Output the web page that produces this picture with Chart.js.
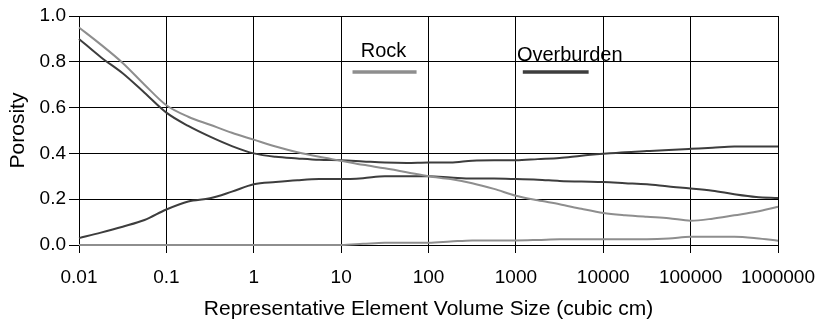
<!DOCTYPE html>
<html>
<head>
<meta charset="utf-8">
<script src="https://cdn.jsdelivr.net/npm/chart.js@4.4.1/dist/chart.umd.min.js"></script>
<style>
  html, body { margin: 0; padding: 0; background: #fff; }
  #wrap { width: 828px; height: 325px; }
</style>
</head>
<body>
<div id="wrap"><canvas id="rev"></canvas></div>
<script>
// volume sizes (cubic cm), sampled at quarter decades
const sizes = [0.01, 0.0178, 0.0316, 0.0562, 0.1, 0.178, 0.316, 0.562,
  1, 1.78, 3.16, 5.62, 10, 17.8, 31.6, 56.2, 100, 178, 316, 562,
  1000, 1780, 3160, 5620, 10000, 17800, 31600, 56200,
  100000, 178000, 316000, 562000, 1000000];

const rockUpper = [0.95, 0.875, 0.795, 0.70, 0.61, 0.56, 0.525, 0.49,
  0.46, 0.43, 0.405, 0.385, 0.368, 0.35, 0.335, 0.318, 0.30, 0.288, 0.27, 0.245,
  0.215, 0.195, 0.178, 0.158, 0.14, 0.13, 0.123, 0.117,
  0.106, 0.115, 0.13, 0.145, 0.167];

const rockLower = [0, 0, 0, 0, 0, 0, 0, 0,
  0, 0, 0, 0, 0, 0.005, 0.01, 0.01, 0.01, 0.015, 0.02, 0.02,
  0.02, 0.022, 0.025, 0.025, 0.025, 0.025, 0.025, 0.028,
  0.036, 0.036, 0.036, 0.03, 0.019];

const overUpper = [0.90, 0.82, 0.75, 0.665, 0.578, 0.52, 0.473, 0.432,
  0.40, 0.385, 0.378, 0.372, 0.37, 0.365, 0.36, 0.358, 0.36, 0.36, 0.368, 0.37,
  0.37, 0.375, 0.38, 0.39, 0.398, 0.405, 0.41, 0.415,
  0.42, 0.425, 0.43, 0.43, 0.43];

const overLower = [0.03, 0.054, 0.08, 0.109, 0.155, 0.19, 0.204, 0.233,
  0.265, 0.275, 0.283, 0.288, 0.288, 0.292, 0.30, 0.30, 0.30, 0.295, 0.29, 0.29,
  0.288, 0.285, 0.28, 0.277, 0.275, 0.27, 0.265, 0.255,
  0.247, 0.237, 0.222, 0.21, 0.205];

const decadeTicks = [0.01, 0.1, 1, 10, 100, 1000, 10000, 100000, 1000000];

const rockColor = '#8e8e8e';
const overColor = '#3d3d3d';
const fontFamily = '"Liberation Sans", Arial, sans-serif';

const toPoints = vals => vals.map((v, i) => ({ x: sizes[i], y: v }));

// legend drawn inside the plot area, labels above line samples
const insideLegend = {
  id: 'insideLegend',
  afterDatasetsDraw(chart) {
    const { ctx, scales } = chart;
    const xs = scales.x, ys = scales.y;
    const items = [
      { text: 'Rock', color: rockColor, from: 13.5, to: 73, textY: 0.823, shift: -1 },
      { text: 'Overburden', color: overColor, from: 1200, to: 6800, textY: 0.805, shift: 14 }
    ];
    ctx.save();
    ctx.font = '20px ' + fontFamily;
    ctx.fillStyle = '#000';
    ctx.textAlign = 'center';
    ctx.textBaseline = 'alphabetic';
    items.forEach(it => {
      const x0 = xs.getPixelForValue(it.from);
      const x1 = xs.getPixelForValue(it.to);
      const ly = ys.getPixelForValue(0.755);
      ctx.strokeStyle = it.color;
      ctx.lineWidth = 3.5;
      ctx.beginPath();
      ctx.moveTo(x0, ly);
      ctx.lineTo(x1, ly);
      ctx.stroke();
      ctx.fillText(it.text, (x0 + x1) / 2 + it.shift, ys.getPixelForValue(it.textY));
    });
    ctx.restore();
  }
};

const ctx = document.getElementById('rev');

const revChart = new Chart(ctx, {
  type: 'line',
  data: {
    datasets: [
      { label: 'Rock', data: toPoints(rockUpper), borderColor: rockColor },
      { label: 'Rock', data: toPoints(rockLower), borderColor: rockColor },
      { label: 'Overburden', data: toPoints(overUpper), borderColor: overColor },
      { label: 'Overburden', data: toPoints(overLower), borderColor: overColor }
    ]
  },
  options: {
    responsive: true,
    maintainAspectRatio: false,
    animation: false,
    layout: { padding: { left: 6, right: 48, top: 16, bottom: 0 } },
    datasets: { line: { clip: 6 } },
    elements: {
      point: { radius: 0 },
      line: { borderWidth: 2, tension: 0.4, cubicInterpolationMode: 'monotone', fill: false }
    },
    plugins: {
      legend: { display: false },
      tooltip: { enabled: false }
    },
    scales: {
      x: {
        type: 'logarithmic',
        min: 0.01,
        max: 1000000,
        afterBuildTicks: axis => {
          axis.ticks = decadeTicks.map(v => ({ value: v }));
        },
        afterFit: axis => { axis.height = 80; },
        border: { color: '#000', width: 1 },
        grid: { color: '#000', lineWidth: 1, tickLength: 8, drawTicks: true },
        ticks: {
          color: '#000',
          font: { family: fontFamily, size: 19 },
          padding: 13,
          maxRotation: 0,
          autoSkip: false,
          callback: v => String(v)
        },
        title: {
          display: true,
          text: 'Representative Element Volume Size (cubic cm)',
          color: '#000',
          font: { family: fontFamily, size: 21 },
          padding: { top: 0, bottom: 3 }
        }
      },
      y: {
        min: 0,
        max: 1,
        afterFit: axis => { axis.width = 73; },
        border: { color: '#000', width: 1 },
        grid: { color: '#000', lineWidth: 1, tickLength: 10 },
        ticks: {
          stepSize: 0.2,
          color: '#000',
          font: { family: fontFamily, size: 19 },
          padding: 3,
          callback: v => v.toFixed(1)
        },
        title: {
          display: true,
          text: 'Porosity',
          color: '#000',
          font: { family: fontFamily, size: 21 },
          padding: { top: 0, bottom: 0 }
        }
      }
    }
  },
  plugins: [insideLegend]
});
</script>
</body>
</html>
